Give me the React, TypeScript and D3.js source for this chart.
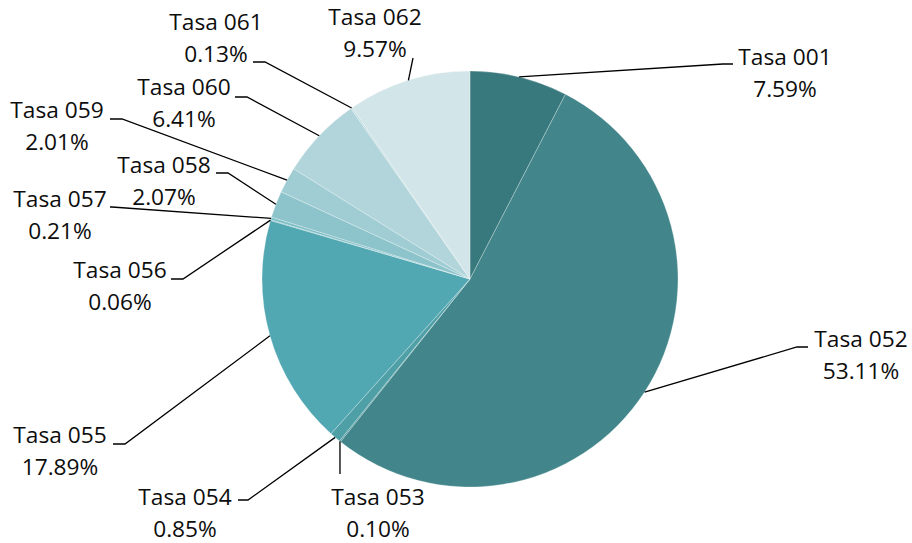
import * as d3 from "d3";

// slice data, clockwise from 12 o'clock
const categories = [
  "Tasa 001", "Tasa 052", "Tasa 053", "Tasa 054", "Tasa 055", "Tasa 056",
  "Tasa 057", "Tasa 058", "Tasa 059", "Tasa 060", "Tasa 061", "Tasa 062",
];
const shares = [7.59, 53.11, 0.1, 0.85, 17.89, 0.06, 0.21, 2.07, 2.01, 6.41, 0.13, 9.57];
const sliceColors = [
  "#38797d", "#42868b", "#4a959b", "#4e9fa6", "#52a8b2", "#6cb6be",
  "#7fbfc6", "#8dc4cb", "#a0cdd3", "#b1d5da", "#c2dde1", "#d2e5e8",
];

// label layout: text centre x, first baseline y, leader elbow, leader end
const labelLayout = [
  { cx: 785, y: 65, bx: 723, by: 64, ex: 733 },
  { cx: 861, y: 347, bx: 797, by: 347, ex: 808 },
  { cx: 378, y: 505, bx: 340, by: 474, ex: 340 },
  { cx: 185, y: 505, bx: 248, by: 500, ex: 238 },
  { cx: 60, y: 443, bx: 125, by: 444, ex: 113 },
  { cx: 120, y: 278, bx: 183, by: 279, ex: 171 },
  { cx: 60, y: 207, bx: 112, by: 207, ex: 110 },
  { cx: 164, y: 173, bx: 228, by: 173, ex: 216 },
  { cx: 57, y: 118, bx: 122, by: 119, ex: 110 },
  { cx: 184, y: 95, bx: 247, by: 97, ex: 235 },
  { cx: 216, y: 30, bx: 265, by: 62, ex: 253 },
  { cx: 375, y: 25, bx: 413, by: 58, ex: 413 },
];

const W = 912;
const H = 543;
const cx = 470;
const cy = 279;
const R = 208;
const lineGap = 32;
const fontSize = 22.7;

export default function App() {
  const data = shares.map((v, i) => ({ name: categories[i], value: v, i }));
  const pie = d3
    .pie<{ name: string; value: number; i: number }>()
    .value((d) => d.value)
    .sort(null)
    .startAngle(0)
    .endAngle(2 * Math.PI);
  const arcs = pie(data);
  const arc = d3.arc<d3.PieArcDatum<{ name: string; value: number; i: number }>>()
    .innerRadius(0)
    .outerRadius(R);

  return (
    <svg
      width={W}
      height={H}
      style={{ position: "absolute", left: 0, top: 0, background: "#fff" }}
      fontFamily="'Open Sans', sans-serif"
    >
      <g transform={`translate(${cx},${cy})`}>
        {arcs.map((a) => (
          <path
            key={a.data.name}
            d={arc(a) || ""}
            fill={sliceColors[a.data.i]}
            stroke="#ffffff"
            strokeOpacity={0.45}
            strokeWidth={0.6}
          />
        ))}
      </g>
      {arcs.map((a) => {
        const lay = labelLayout[a.data.i];
        const mid = (a.startAngle + a.endAngle) / 2;
        const px = cx + R * Math.sin(mid);
        const py = cy - R * Math.cos(mid);
        const path = d3.path();
        path.moveTo(px, py);
        path.lineTo(lay.bx, lay.by);
        path.lineTo(lay.ex, lay.by);
        return (
          <g key={"lab" + a.data.name}>
            <path d={path.toString()} fill="none" stroke="#000" strokeWidth={1.3} />
            <text x={lay.cx} y={lay.y} textAnchor="middle" fontSize={fontSize} fill="#0d0d0d">
              {a.data.name}
            </text>
            <text x={lay.cx} y={lay.y + lineGap} textAnchor="middle" fontSize={fontSize} fill="#0d0d0d">
              {d3.format(".2f")(a.data.value) + "%"}
            </text>
          </g>
        );
      })}
    </svg>
  );
}
